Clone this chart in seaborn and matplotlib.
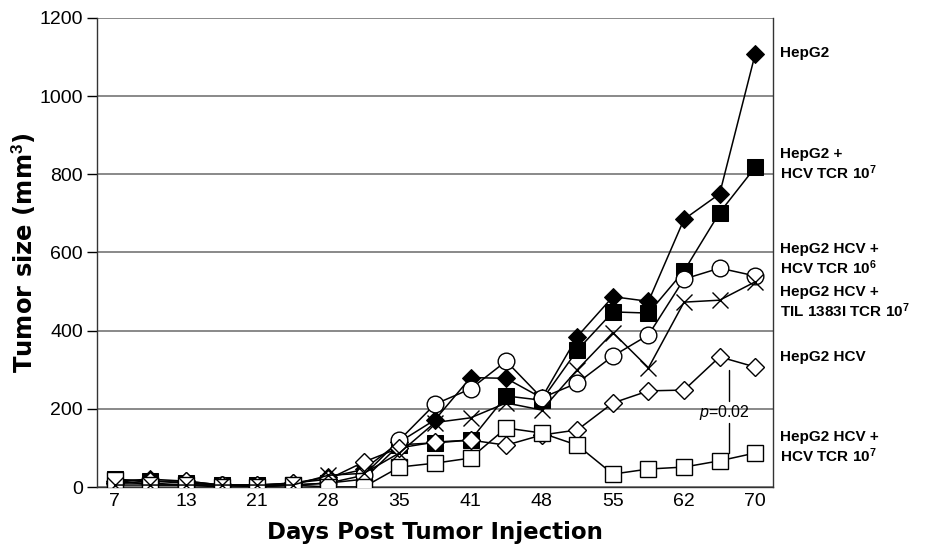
import matplotlib
matplotlib.use("Agg")
import matplotlib.pyplot as plt
import seaborn as sns
import numpy as np
import pandas as pd

# ---- data ----
days = [7, 10, 13, 17, 21, 24, 28, 31, 35, 38, 41, 44, 48, 51, 55, 58, 62, 66, 70]
shown_day_labels = ["7", "13", "21", "28", "35", "41", "48", "55", "62", "70"]

hepg2 = [15, 20, 15, 5, 5, 10, 25, 45, 115, 172, 280, 278, 228, 385, 487, 475, 685, 750, 1108]
hepg2_tcr7 = [20, 15, 10, 5, 5, 5, 10, 20, 108, 113, 120, 233, 222, 350, 448, 445, 553, 702, 818]
hcv_tcr6 = [10, 10, 5, 5, 0, 5, 10, 30, 120, 212, 251, 322, 228, 266, 335, 389, 532, 560, 540]
hcv_til = [5, 5, 5, 5, 5, 5, 30, 35, 87, 165, 177, 215, 197, 300, 395, 305, 473, 478, 525]
hepg2_hcv = [10, 15, 15, 5, 5, 10, 20, 64, 100, 115, 120, 107, 133, 146, 215, 246, 248, 333, 307]
hcv_tcr7 = [18, 5, 5, 0, 0, 5, 0, 0, 51, 61, 74, 151, 138, 107, 33, 46, 51, 67, 87]

labels = ["HepG2",
          "HepG2 +\nHCV TCR 10$^{7}$",
          "HepG2 HCV +\nHCV TCR 10$^{6}$",
          "HepG2 HCV +\nTIL 1383I TCR 10$^{7}$",
          "HepG2 HCV",
          "HepG2 HCV +\nHCV TCR 10$^{7}$"]
label_y = [1110, 824, 583, 471, 333, 102]

series = [hepg2, hepg2_tcr7, hcv_tcr6, hcv_til, hepg2_hcv, hcv_tcr7]
styles = [
    dict(marker="D", markersize=9.5, markerfacecolor="black", markeredgecolor="black"),
    dict(marker="s", markersize=11, markerfacecolor="black", markeredgecolor="black"),
    dict(marker="o", markersize=12, markerfacecolor="white", markeredgecolor="black", markeredgewidth=1.0),
    dict(marker="x", markersize=12, markeredgecolor="black", markeredgewidth=1.0),
    dict(marker="D", markersize=9.5, markerfacecolor="white", markeredgecolor="black", markeredgewidth=1.0),
    dict(marker="s", markersize=12, markerfacecolor="white", markeredgecolor="black", markeredgewidth=1.0),
]

sns.set_theme(style="white")
plt.rcParams["font.family"] = ["Liberation Sans", "DejaVu Sans"]
plt.rcParams["mathtext.fontset"] = "custom"
plt.rcParams["mathtext.rm"] = "Liberation Sans:bold"
plt.rcParams["mathtext.bf"] = "Liberation Sans:bold"
plt.rcParams["mathtext.it"] = "Liberation Sans:italic"
for k in ["text.color", "axes.labelcolor", "xtick.color", "ytick.color"]:
    plt.rcParams[k] = "black"

fig = plt.figure(figsize=(9.33, 5.53), dpi=100)
ax = fig.add_axes([97 / 933, 1 - 487 / 553, (773 - 97) / 933, (487 - 18) / 553])

pos = np.arange(len(days))
# stacking order (bottom -> top) as in the original
order = [0, 1, 2, 4, 5, 3]
for rank, i in enumerate(order):
    df = pd.DataFrame({"pos": pos, "size": series[i]})
    sns.lineplot(data=df, x="pos", y="size", ax=ax, color="black", linewidth=1.1,
                 zorder=3 + rank * 0.1, **styles[i])

ax.set_xlim(-0.5, len(days) - 0.5)
ax.set_ylim(0, 1200)
ax.set_yticks(np.arange(0, 1201, 200))
ax.yaxis.grid(True, color="#808080", linewidth=1.3)
ax.set_axisbelow(True)

ax.set_xticks(pos[::2])
ax.set_xticklabels(shown_day_labels)
ax.set_xticks(np.arange(-0.5, len(days)), minor=True)
ax.tick_params(axis="x", which="major", length=0, labelsize=14, pad=4)
ax.tick_params(axis="x", which="minor", length=7, width=1, color="black", direction="out")
ax.tick_params(axis="y", which="major", length=7, width=1, color="black", direction="out",
               labelsize=14, pad=3)
ax.tick_params(axis="both", bottom=True, left=True)

for s in ["left", "bottom", "right"]:
    ax.spines[s].set_visible(True)
    ax.spines[s].set_color("#333333")
    ax.spines[s].set_linewidth(1.0)
ax.spines["top"].set_visible(False)

ax.set_xlabel("Days Post Tumor Injection", fontsize=16.5, fontweight="bold", labelpad=8,
              family="DejaVu Sans")
ax.set_ylabel("Tumor size (mm$^{3}$)", fontsize=17.5, fontweight="bold", labelpad=1,
              family="DejaVu Sans")

for lab, yv in zip(labels, label_y):
    ax.annotate(lab, xy=(1.01, yv), xycoords=("axes fraction", "data"),
                fontsize=11, fontweight="bold", va="center", ha="left",
                linespacing=1.15, annotation_clip=False)

# p-value annotation
xp = 17.26
ax.plot([xp, xp], [300, 220], color="black", linewidth=1)
ax.plot([xp, xp], [165, 87], color="black", linewidth=1)
ax.text(xp - 0.12, 190, "$\\mathit{p}$=0.02", fontsize=11.5, ha="center", va="center",
        family=["Liberation Sans", "DejaVu Sans"])

fig.savefig("out.png", dpi=100)
